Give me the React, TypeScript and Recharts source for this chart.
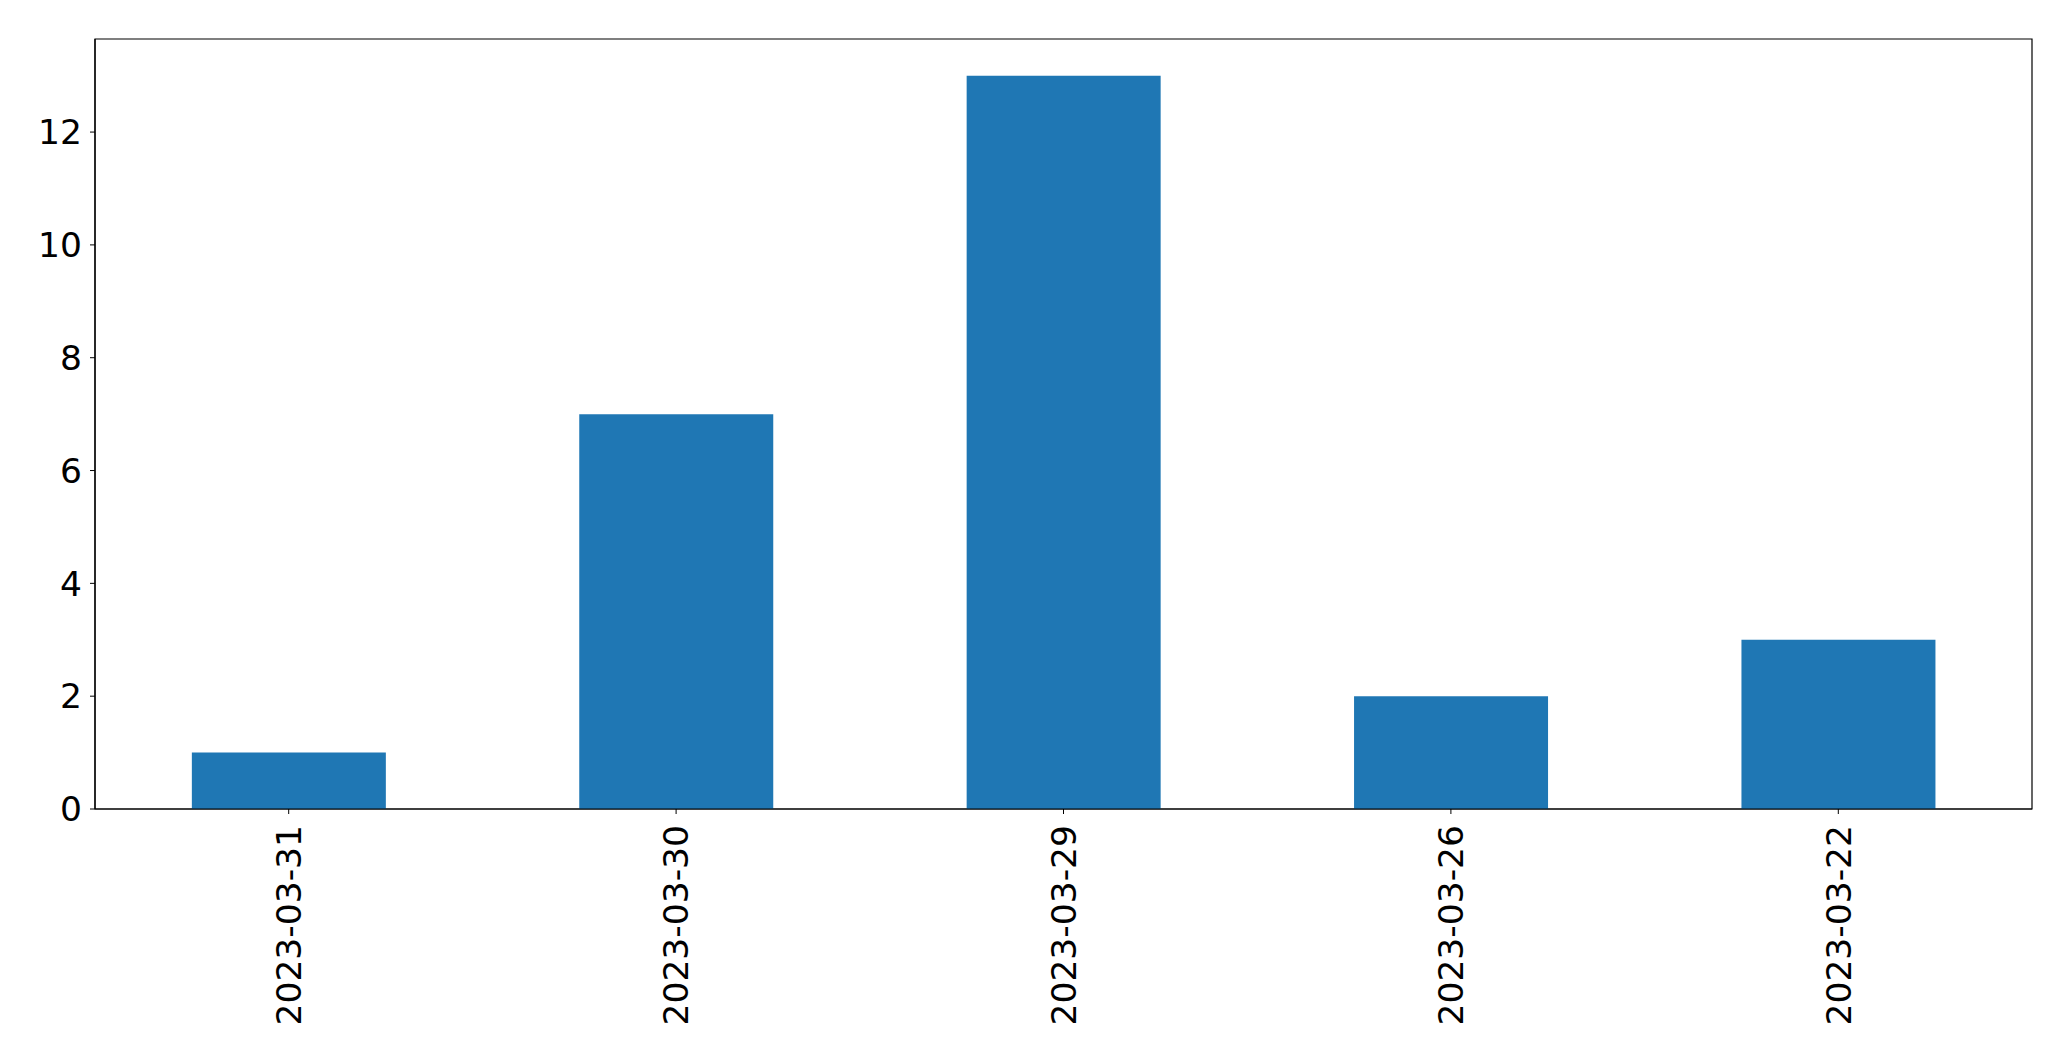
import React from "react";
import { BarChart, Bar, XAxis, YAxis, ReferenceArea } from "recharts";

const categories = ["2023-03-31", "2023-03-30", "2023-03-29", "2023-03-26", "2023-03-22"];
const counts = [1, 7, 13, 2, 3];
const yTicks = [0, 2, 4, 6, 8, 10, 12];
const yMax = 13.65;

const data = categories.map((c, i) => ({ date: c, count: counts[i] }));

const FONT = "'DejaVu Sans', sans-serif";

const XTick = (props: any) => {
  const { x, y, payload } = props;
  return (
    <text
      x={x}
      y={y}
      transform={`rotate(-90, ${x}, ${y})`}
      textAnchor="end"
      dy="0.355em"
      fontFamily={FONT}
      fontSize={34.5}
      fill="#000"
    >
      {payload.value}
    </text>
  );
};

export default function App() {
  return (
    <div style={{ position: "absolute", left: 0, top: 0, background: "#fff" }}>
      <BarChart
        width={2071}
        height={1061}
        data={data}
        margin={{ top: 39, right: 39, bottom: 0, left: 0 }}
        barCategoryGap="25%"
      >
        <XAxis
          dataKey="date"
          height={252}
          tickSize={5}
          tickMargin={11}
          tick={<XTick />}
          stroke="#000"
          axisLine={{ stroke: "#000", strokeWidth: 1.2 }}
          tickLine={{ stroke: "#000", strokeWidth: 1 }}
          interval={0}
        />
        <YAxis
          width={95}
          domain={[0, yMax]}
          ticks={yTicks}
          tickSize={5}
          tickMargin={8}
          allowDataOverflow
          stroke="#000"
          tick={{ fontFamily: FONT, fontSize: 34.5, fill: "#000" }}
          axisLine={{ stroke: "#000", strokeWidth: 1.2 }}
          tickLine={{ stroke: "#000", strokeWidth: 1 }}
        />
        <Bar dataKey="count" fill="#1f77b4" isAnimationActive={false} />
        <ReferenceArea
          y1={0}
          y2={yMax}
          fill="none"
          fillOpacity={0}
          stroke="#000"
          strokeWidth={1.2}
          ifOverflow="visible"
        />
      </BarChart>
    </div>
  );
}
